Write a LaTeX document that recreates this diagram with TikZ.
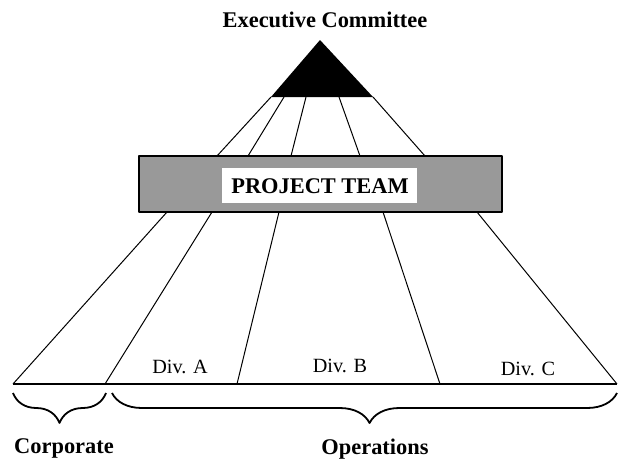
\documentclass[tikz,border=0pt]{standalone}
\usepackage{fontspec}
\setmainfont{Liberation Serif}
\usetikzlibrary{decorations.pathreplacing}
\definecolor{teamgray}{RGB}{153,153,153}

\begin{document}
\begin{tikzpicture}[x=0.5pt, y=-0.5pt, line join=round,
    heading/.style={anchor=base, font=\fontsize{11.2}{13}\selectfont\bfseries},
    divlabel/.style={anchor=base, font=\fontsize{10.1}{12}\selectfont},
    ray/.style={line width=0.5pt},
    bracedown/.style={decorate, decoration={brace, mirror, amplitude=15pt}, line width=0.9pt}]
        \useasboundingbox (0,0) rectangle (618,462);
        \node[heading] (exec) at (325,27) {Executive Committee};
        % committee triangle
        \coordinate (apex) at (320,40);
        \coordinate (t1) at (271,97);
        \coordinate (t2) at (284,97);
        \coordinate (t3) at (306,97);
        \coordinate (t4) at (339,97);
        \coordinate (t5) at (373,97);
        \fill (apex) -- (t5) -- (t1) -- cycle;
        % project team
        \node[draw=black, line width=0.75pt, fill=teamgray, minimum width=181.5pt, minimum height=28pt, inner sep=0pt] (team) at (320.5,184) {};
        \node[fill=white, minimum width=97.5pt, minimum height=17.5pt, inner sep=0pt] (teambox) at (319.5,185.5) {};
        \node[heading] (teamtext) at (320,193) {PROJECT TEAM};
        \coordinate (r1) at (217,156);
        \coordinate (r2) at (248,156);
        \coordinate (r3) at (291,156);
        \coordinate (r4) at (360,156);
        \coordinate (r5) at (425,156);
        \foreach \i in {1,...,5}
            \draw[ray] (t\i) -- (r\i);
        % divisions
        \coordinate (b1) at (167,212);
        \coordinate (b2) at (212,212);
        \coordinate (b3) at (279,212);
        \coordinate (b4) at (383,212);
        \coordinate (b5) at (477,212);
        \coordinate (g1) at (13,384);
        \coordinate (g2) at (105,384);
        \coordinate (g3) at (237,384);
        \coordinate (g4) at (440,384);
        \coordinate (g5) at (617,384);
        \foreach \i in {1,...,5}
            \draw[ray] (b\i) -- (g\i);
        \draw[line width=0.9pt] (g1) -- (g5);
        \node[divlabel] (diva) at (180,373) {Div. A};
        \node[divlabel] (divb) at (340,372) {Div. B};
        \node[divlabel] (divc) at (528,375) {Div. C};
        % braces
        \coordinate (c1) at (13,393);
        \coordinate (c2) at (106,393);
        \coordinate (o1) at (112,393);
        \coordinate (o2) at (617,393);
        \draw[bracedown] (c1) -- (c2);
        \draw[bracedown, decoration={aspect=0.51}] (o1) -- (o2);
        \node[heading] (corp) at (64,453) {Corporate};
        \node[heading] (ops) at (375,454) {Operations};
    \end{tikzpicture}
\end{document}
